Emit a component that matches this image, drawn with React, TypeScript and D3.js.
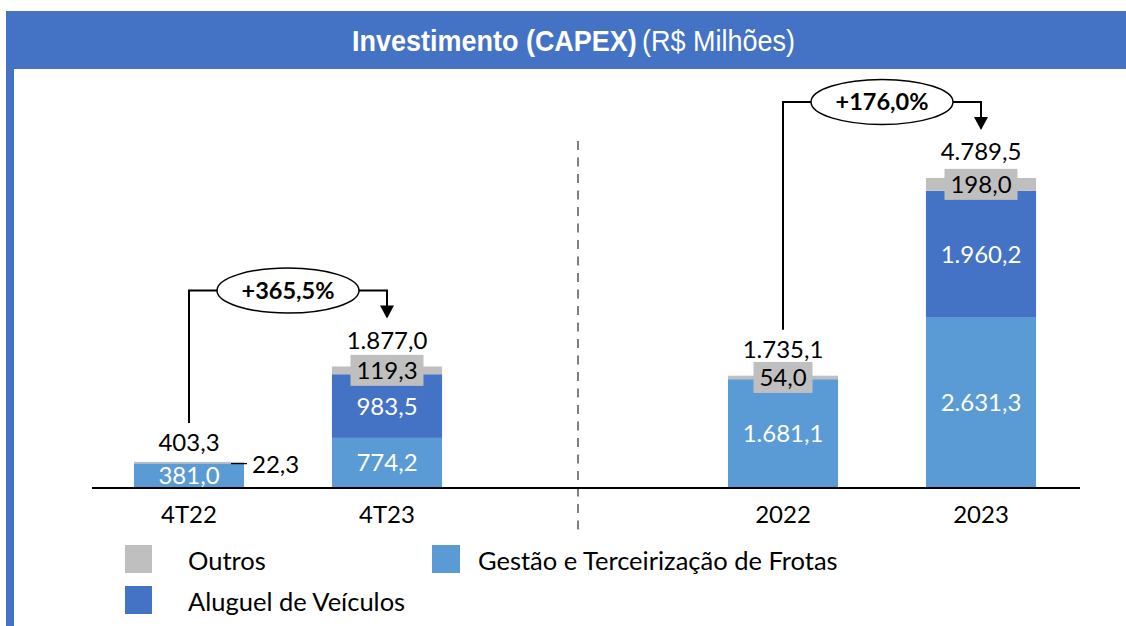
import React from "react";
import * as d3 from "d3";

// CAPEX por segmento (R$ milhões): trimestre e ano, barras empilhadas
const categories = ["4T22", "4T23", "2022", "2023"];
const gestao = [381.0, 774.2, 1681.1, 2631.3];
const aluguel = [0, 983.5, 0, 1960.2];
const outros = [22.3, 119.3, 54.0, 198.0];
const totals = [403.3, 1877.0, 1735.1, 4789.5];
const growthFrom = [0, 2];
const growthTo = [1, 3];
const growthLabels = ["+365,5%", "+176,0%"];
const seriesNames = ["Outros", "Gestão e Terceirização de Frotas", "Aluguel de Veículos"];

const W = 1126;
const H = 626;
const C_OUTROS = "#BFBFBF";
const C_GESTAO = "#5B9BD5";
const C_ALUGUEL = "#4472C4";
const FONT = "Lato, 'Open Sans', sans-serif";
const TITLE_FONT = "'Liberation Sans Narrow', 'Arial Narrow', 'Liberation Sans', sans-serif";

const fmt = (v: number) => {
  const [i, d] = v.toFixed(1).split(".");
  return i.replace(/\B(?=(\d{3})+(?!\d))/g, ".") + "," + d;
};

export default function App() {
  const slots = ["4T22", "4T23", "gap", "2022", "2023"];
  const x = d3.scaleBand<string>().domain(slots).range([90, 1080]).paddingInner(0.444).paddingOuter(0.222);
  const y = d3.scaleLinear().domain([0, 5000]).range([488, 488 - 5000 * 0.06473]);
  const bw = x.bandwidth();
  const cx = (i: number) => (x(categories[i]) as number) + bw / 2;

  const rows = categories.map((c, i) => ({ c, gestao: gestao[i], aluguel: aluguel[i], outros: outros[i] }));
  const stack = d3.stack<any>().keys(["gestao", "aluguel", "outros"])(rows);
  const colors: Record<string, string> = { gestao: C_GESTAO, aluguel: C_ALUGUEL, outros: C_OUTROS };

  const totalBaseline = (i: number) => y(totals[i]) - (i === 0 ? 11 : 18);

  const sepX = (cx(1) + cx(2)) / 2 - 7;

  return (
    <svg width={W} height={H} style={{ position: "absolute", left: 0, top: 0, background: "#fff" }}>
      {/* frame */}
      <rect x={6} y={11} width={8} height={H - 11} fill={C_ALUGUEL} />
      <path d={`M6,${69} V15 Q6,11 10,11 H${W} V69 Z`} fill={C_ALUGUEL} />
      <g fill="#fff" fontFamily={TITLE_FONT} fontSize={30}>
        <text transform="translate(352,51) scale(0.9,1)" fontWeight="bold">
          Investimento (CAPEX)
        </text>
        <text transform="translate(642,51) scale(0.9,1)">(R$ Milhões)</text>
      </g>

      {/* separator */}
      <line x1={sepX} x2={sepX} y1={141} y2={530} stroke="#7F7F7F" strokeWidth={2} strokeDasharray="9,7.5" />

      {/* bars */}
      {stack.map((s) =>
        s.map((d, i) =>
          d[1] - d[0] > 0 ? (
            <rect
              key={s.key + i}
              x={x(categories[i])}
              width={bw}
              y={y(d[1])}
              height={y(d[0]) - y(d[1])}
              fill={colors[s.key]}
            />
          ) : null
        )
      )}

      {/* baseline */}
      <line x1={92} x2={1080} y1={488} y2={488} stroke="#000" strokeWidth={2} />

      {/* segment labels */}
      {categories.map((c, i) => {
        const g0 = 0;
        const g1 = gestao[i];
        const a1 = g1 + aluguel[i];
        const t1 = a1 + outros[i];
        const oMid = (y(a1) + y(t1)) / 2;
        const oTxt = fmt(outros[i]);
        const bwid = oTxt.length * 14 + 3;
        return (
          <g key={c} fontFamily={FONT} fontSize={24}>
            <text x={cx(i)} y={(y(g0) + y(g1)) / 2 + 8.5} textAnchor="middle" fill="#fff">
              {fmt(gestao[i])}
            </text>
            {aluguel[i] > 0 && (
              <text x={cx(i)} y={(y(g1) + y(a1)) / 2 + 8.5} textAnchor="middle" fill="#fff">
                {fmt(aluguel[i])}
              </text>
            )}
            {i === 0 ? (
              <g>
                <line x1={cx(i) + 42} x2={cx(i) + 58} y1={oMid + 1} y2={oMid + 1} stroke="#000" strokeWidth={1.2} />
                <text x={cx(i) + 63} y={oMid + 10} fill="#000">
                  {oTxt}
                </text>
              </g>
            ) : (
              <g>
                <rect x={cx(i) - bwid / 2} y={oMid - 15.5} width={bwid} height={31} fill={C_OUTROS} />
                <text x={cx(i)} y={oMid + 8.5} textAnchor="middle" fill="#000">
                  {oTxt}
                </text>
              </g>
            )}
            <text x={cx(i)} y={totalBaseline(i)} textAnchor="middle" fill="#000">
              {fmt(totals[i])}
            </text>
            <text x={cx(i)} y={523} textAnchor="middle" fill="#000">
              {c}
            </text>
          </g>
        );
      })}

      {/* growth brackets */}
      {growthLabels.map((lab, k) => {
        const a = growthFrom[k];
        const b = growthTo[k];
        const x0 = cx(a);
        const x1 = cx(b);
        const y0 = totalBaseline(a) - 28;
        const tip = totalBaseline(b) - 30;
        const top = tip - 28;
        const ex = (x0 + x1) / 2;
        return (
          <g key={lab}>
            <path
              d={`M${x0},${y0} V${top} H${x1} V${tip - 12}`}
              fill="none"
              stroke="#000"
              strokeWidth={2}
            />
            <path d={`M${x1 - 7},${tip - 13} L${x1 + 7},${tip - 13} L${x1},${tip} Z`} fill="#000" />
            <ellipse cx={ex} cy={top} rx={71} ry={22.5} fill="#fff" stroke="#000" strokeWidth={1.5} />
            <text x={ex} y={top + 8} textAnchor="middle" fontFamily={FONT} fontSize={23.5} fontWeight="bold">
              {lab}
            </text>
          </g>
        );
      })}

      {/* legend */}
      <g fontFamily={FONT} fontSize={25.5}>
        <rect x={125} y={545} width={27} height={28} fill={C_OUTROS} />
        <text x={188} y={570}>{seriesNames[0]}</text>
        <rect x={432} y={545} width={28} height={28} fill={C_GESTAO} />
        <text x={478} y={570}>{seriesNames[1]}</text>
        <rect x={125} y={586} width={27} height={28} fill={C_ALUGUEL} />
        <text x={188} y={611}>{seriesNames[2]}</text>
      </g>
    </svg>
  );
}
